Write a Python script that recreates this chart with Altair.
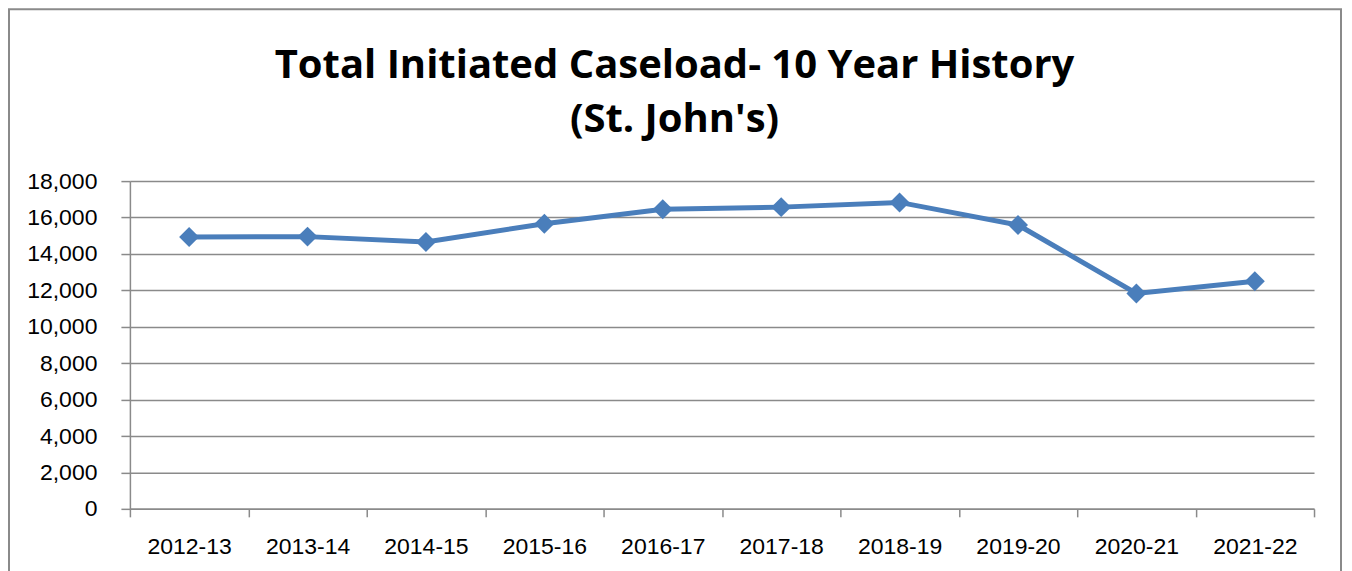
import altair as alt
import pandas as pd

years = ["2012-13", "2013-14", "2014-15", "2015-16", "2016-17",
         "2017-18", "2018-19", "2019-20", "2020-21", "2021-22"]
caseload = [14930, 14950, 14650, 15660, 16450, 16570, 16830, 15590, 11830, 12500]
y_ticks = list(range(0, 18001, 2000))
title_lines = ["Total Initiated Caseload- 10 Year History", "(St. John's)"]

df = pd.DataFrame({"year": years, "caseload": caseload})

BLUE = "#4A7EBB"
GRAY = "#8a8a8a"
LABEL_FONT = "Liberation Sans"
TITLE_FONT = "Open Sans, sans-serif"

x_enc = alt.X("year:N", sort=years, bandPosition=0.5,
              scale=alt.Scale(type="band", paddingInner=0, paddingOuter=0),
              axis=alt.Axis(title=None, labelAngle=0, tickBand="extent",
                            tickSize=8, labelPadding=19, grid=False))
y_enc = alt.Y("caseload:Q",
              scale=alt.Scale(domain=[0, 18000], nice=False),
              axis=alt.Axis(title=None, values=y_ticks, format=",.0f",
                            tickSize=9, labelPadding=24, grid=True))

base = alt.Chart(df)
line = base.mark_line(color=BLUE, strokeWidth=5).encode(x=x_enc, y=y_enc)
points = base.mark_point(shape="diamond", filled=True, size=400,
                         color=BLUE, opacity=1).encode(x=x_enc, y=y_enc)

one = pd.DataFrame({"a": [0]})
border = alt.Chart(one).mark_rect(fill=None, stroke=GRAY, strokeWidth=2).encode(
    x=alt.value(-121), x2=alt.value(1212), y=alt.value(-172), y2=alt.value(430))
t1 = alt.Chart(one).mark_text(text=title_lines[0], font=TITLE_FONT, fontSize=40,
                              fontWeight="bold", align="center",
                              baseline="alphabetic", color="black").encode(
    x=alt.value(545), y=alt.value(-103))
t2 = alt.Chart(one).mark_text(text=title_lines[1], font=TITLE_FONT, fontSize=40,
                              fontWeight="bold", align="center",
                              baseline="alphabetic", color="black").encode(
    x=alt.value(545), y=alt.value(-49))

chart = alt.layer(border, t1, t2, line, points).properties(
    width=1185, height=328,
    autosize=alt.AutoSizeParams(type="none"),
    padding={"left": 122, "top": 173, "right": 30, "bottom": 80},
).configure_view(stroke=None).configure_axis(
    labelFont=LABEL_FONT, labelFontSize=23, labelColor="black",
    domainColor=GRAY, domainWidth=1.5, tickColor=GRAY, tickWidth=1.5,
    gridColor=GRAY, gridWidth=1.5,
)

chart.save("out.html", embed_options={"renderer": "svg", "actions": False})
